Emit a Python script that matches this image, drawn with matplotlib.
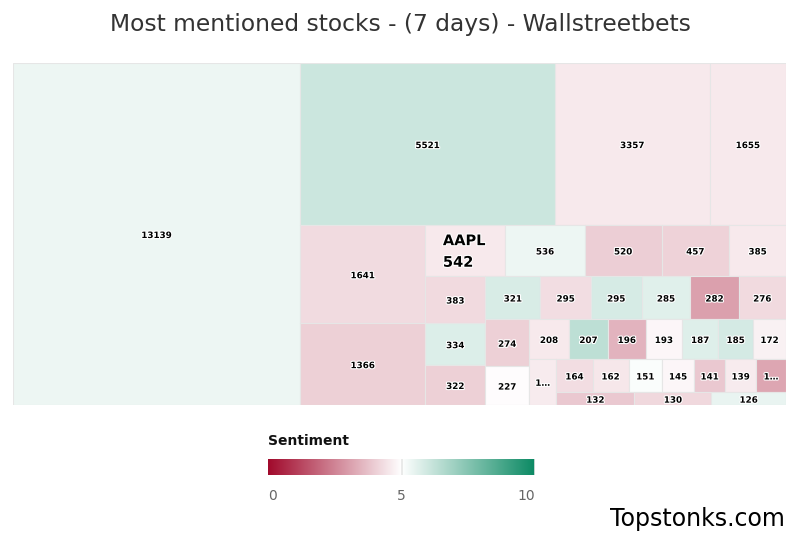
import numpy as np
import matplotlib
matplotlib.use('Agg')
import matplotlib.pyplot as plt
from matplotlib.patches import Rectangle
from matplotlib.colors import LinearSegmentedColormap
import matplotlib.patheffects as pe

# mentions over the last 7 days, sorted as in the chart (biggest first)
mentions = [13139, 5521, 3357, 1655, 1641, 1366, 542, 536, 520, 457,
            385, 383, 334, 322, 321, 295, 295, 285, 282, 276,
            274, 227, 208, 207, 196, 193, 187, 185, 172, 169,
            164, 162, 151, 145, 141, 139, 135, 132, 130, 126]
# sentiment score 0..10
sentiment = [5.38, 6.08, 4.57, 4.57, 4.28, 4.06, 4.55, 5.37, 4.0, 4.08,
             4.57, 4.24, 5.73, 4.04, 5.8, 4.32, 5.85, 5.65, 3.05, 4.24,
             4.04, 4.96, 4.57, 6.35, 3.46, 4.82, 5.7, 5.87, 4.7, 4.6,
             4.32, 4.53, 5.1, 4.82, 3.9, 4.6, 3.2, 3.9, 4.2, 5.45]
highlight = {6: 'AAPL'}
legend_ticks = [0, 5, 10]

cmap = LinearSegmentedColormap.from_list('sent', ['#a10a2c', '#ffffff', '#0c8a64'])


class LayoutGroup:
    # same bookkeeping as the highcharts squarified treemap
    def __init__(self, height, width, direction):
        self.height = height
        self.width = width
        self.direction = direction
        self.total = 0.0
        self.nW = self.lW = self.nH = self.lH = 0.0
        self.elArr = []
        self.nR = self.lR = float('nan')

    @staticmethod
    def ratio(w, h):
        if w <= 0 or h <= 0:
            return float('inf')
        return max(w / h, h / w)

    def add(self, el):
        prev = self.elArr[-1] if self.elArr else None
        self.total += el
        if self.direction == 0:
            self.lW = self.nW
            self.nW = self.total / self.height
            if prev is not None:
                self.lR = self.ratio(self.lW, prev / self.lW if self.lW else float('inf'))
                self.nR = self.ratio(self.nW, prev / self.nW)
        else:
            self.lH = self.nH
            self.nH = self.total / self.width
            if prev is not None:
                self.lR = self.ratio(prev / self.lH if self.lH else float('inf'), self.lH)
                self.nR = self.ratio(prev / self.nH, self.nH)
        if prev is None:
            self.nR = self.lR = float('nan')
        self.elArr.append(el)

    def reset(self):
        self.nW = self.lW = 0.0
        self.elArr = []
        self.total = 0.0


def calc_points(group, plot, parent, last, out):
    if last:
        gW, gH = group.nW, group.nH
        items = group.elArr
        keep = None
    else:
        gW, gH = group.lW, group.lH
        items = group.elArr[:-1]
        keep = group.elArr[-1]
    for p in items:
        if group.direction == 0:
            pW, pH = gW, p / gW
            out.append((plot['x'], plot['y'], pW, pH))
            plot['y'] += pH
        else:
            pW, pH = p / gH, gH
            out.append((plot['x'], plot['y'], pW, pH))
            plot['x'] += pW
    group.reset()
    if group.direction == 0:
        group.width -= gW
    else:
        group.height -= gH
    plot['y'] = parent['y'] + (parent['height'] - group.height)
    plot['x'] = parent['x'] + (parent['width'] - group.width)
    group.direction = 1 - group.direction
    if not last:
        group.add(keep)


def squarified(values, width, height):
    parent = {'x': 0.0, 'y': 0.0, 'width': width, 'height': height}
    plot = {'x': 0.0, 'y': 0.0}
    group = LayoutGroup(height, width, 0)
    total = float(sum(values))
    out = []
    for i, v in enumerate(values):
        group.add(width * height * v / total)
        if group.nR > group.lR:
            calc_points(group, plot, parent, False, out)
        if i == len(values) - 1:
            calc_points(group, plot, parent, True, out)
    return out


W, H = 800, 533
fig = plt.figure(figsize=(W / 100, H / 100), dpi=100)

# treemap area in pixels: x 13..786, y 63..405
left, top, pw, ph = 13, 63, 773, 342
ax = fig.add_axes([left / W, 1 - (top + ph) / H, pw / W, ph / H])
ax.set_xlim(0, pw)
ax.set_ylim(ph, 0)
ax.axis('off')

rects = squarified(mentions, pw, ph)
outline = [pe.withStroke(linewidth=1.6, foreground='white')]
renderer = fig.canvas.get_renderer()
for i, (x, y, w, h) in enumerate(rects):
    ax.add_patch(Rectangle((x, y), w, h, facecolor=cmap(sentiment[i] / 10),
                           edgecolor='#e6e6e6', linewidth=0.8))
    cx, cy = x + w / 2, y + h / 2
    if i in highlight:
        ax.text(cx - 1, cy + 1, '%s\n%d' % (highlight[i], mentions[i]), ha='center', va='center',
                multialignment='left', fontsize=10.5, fontweight='bold', color='black',
                linespacing=1.55, path_effects=outline)
        continue
    label = str(mentions[i])
    t = ax.text(cx, cy + 1.5, label, ha='center', va='center', fontsize=6.3,
                fontweight='bold', color='black', path_effects=outline)
    tw = t.get_window_extent(renderer).width
    # cell too narrow -> ellipsis like the original
    if tw > w - 12.4:
        t.set_text(label[0] + '\u2026')

fig.text(0.5, 1 - 24 / H, 'Most mentioned stocks - (7 days) - Wallstreetbets',
         ha='center', va='center', fontsize=16.8, color='#333333')

# colour legend
fig.text(268 / W, 1 - 441 / H, 'Sentiment', ha='left', va='center',
         fontsize=10, fontweight='bold', color='#111111')
cax = fig.add_axes([268 / W, 1 - 475 / H, 267 / W, 16 / H])
grad = np.linspace(0, 10, 512).reshape(1, -1)
cax.imshow(grad, cmap=cmap, aspect='auto', extent=[0, 10, 0, 1], vmin=0, vmax=10)
for v in legend_ticks[1:]:
    cax.axvline(v, color='#e6e6e6', lw=1.2)
cax.set_xlim(0, 10)
cax.set_yticks([])
cax.set_xticks(legend_ticks)
cax.set_xticklabels([str(v) for v in legend_ticks])
cax.tick_params(axis='x', length=0, pad=10, labelsize=10, labelcolor='#666666')
labels = cax.get_xticklabels()
labels[0].set_ha('left')
labels[-1].set_ha('right')
for s in cax.spines.values():
    s.set_visible(False)

fig.text(785 / W, 1 - 519 / H, 'Topstonks.com', ha='right', va='center',
         fontsize=17, color='black')

fig.savefig('out.png', dpi=100, facecolor='white')
